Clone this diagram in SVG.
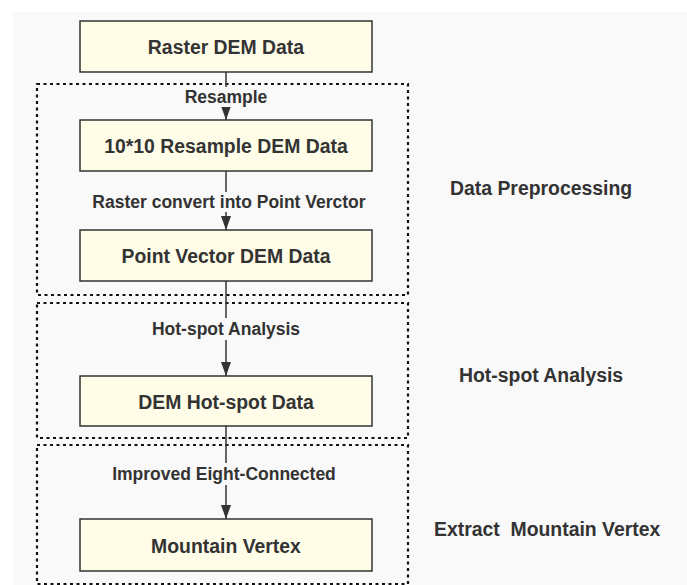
<svg xmlns="http://www.w3.org/2000/svg" width="687" height="585" viewBox="0 0 687 585">
  <defs>
    <marker id="arrow" viewBox="0 0 14 10" refX="14" refY="5" markerWidth="14" markerHeight="10" markerUnits="userSpaceOnUse" orient="auto">
      <path d="M0,0 L14,5 L0,10 z" fill="#333"/>
    </marker>
    <style>
      .node rect { fill: #fffde8; stroke: #333; stroke-width: 1.5; }
      .node text { font-family: "Liberation Sans", Arial, sans-serif; font-weight: bold; font-size: 19.4px; fill: #333; text-anchor: middle; dominant-baseline: central; }
      .group { fill: none; stroke: #111; stroke-width: 2.2; stroke-dasharray: 3 3.5; }
      .edge { stroke: #333; stroke-width: 1.5; fill: none; }
      .elabel { font-family: "Liberation Sans", Arial, sans-serif; font-weight: bold; font-size: 17.5px; fill: #333; text-anchor: middle; dominant-baseline: central; }
      .lbg { fill: #f9f9f9; }
      .side { font-family: "Liberation Sans", Arial, sans-serif; font-weight: bold; font-size: 19.4px; fill: #333; white-space: pre; }
    </style>
  </defs>

  <rect x="0" y="0" width="687" height="585" fill="#fff"/>
  <rect x="13" y="12" width="674" height="573" fill="#f9f9f9"/>

  <!-- stage groups -->
  <g id="groups">
    <rect class="group" x="37" y="84" width="371" height="211"/>
    <rect class="group" x="37" y="303" width="371" height="135"/>
    <rect class="group" x="37" y="445" width="371" height="139"/>
    <text class="side" x="450" y="195">Data Preprocessing</text>
    <text class="side" x="459" y="382">Hot-spot Analysis</text>
    <text class="side" x="434" y="536" xml:space="preserve">Extract  Mountain Vertex</text>
  </g>

  <!-- connectors -->
  <g id="connectors">
    <line class="edge" x1="226" y1="72" x2="226" y2="120" marker-end="url(#arrow)"/>
    <line class="edge" x1="226" y1="171" x2="226" y2="230" marker-end="url(#arrow)"/>
    <line class="edge" x1="226" y1="281" x2="226" y2="376" marker-end="url(#arrow)"/>
    <line class="edge" x1="226" y1="426" x2="226" y2="519" marker-end="url(#arrow)"/>

    <rect class="lbg" x="182" y="87" width="88" height="20"/>
    <text class="elabel" x="226" y="97">Resample</text>
    <rect class="lbg" x="89" y="192" width="280" height="20"/>
    <text class="elabel" x="229" y="202">Raster convert into Point Verctor</text>
    <rect class="lbg" x="148" y="318" width="156" height="22"/>
    <text class="elabel" x="226" y="329">Hot-spot Analysis</text>
    <rect class="lbg" x="108" y="463" width="230" height="22"/>
    <text class="elabel" x="224" y="474">Improved Eight-Connected</text>
  </g>

  <!-- nodes -->
  <g id="raster-dem" class="node">
    <rect x="80" y="21" width="292" height="51"/>
    <text x="226" y="47">Raster DEM Data</text>
  </g>
  <g id="resample-dem" class="node">
    <rect x="80" y="120" width="292" height="51"/>
    <text x="226" y="146">10*10 Resample DEM Data</text>
  </g>
  <g id="point-vector-dem" class="node">
    <rect x="80" y="230" width="292" height="51"/>
    <text x="226" y="256">Point Vector DEM Data</text>
  </g>
  <g id="hotspot-dem" class="node">
    <rect x="80" y="376" width="292" height="50"/>
    <text x="226" y="402">DEM Hot-spot Data</text>
  </g>
  <g id="mountain-vertex" class="node">
    <rect x="80" y="519" width="292" height="52"/>
    <text x="226" y="546">Mountain Vertex</text>
  </g>
</svg>
